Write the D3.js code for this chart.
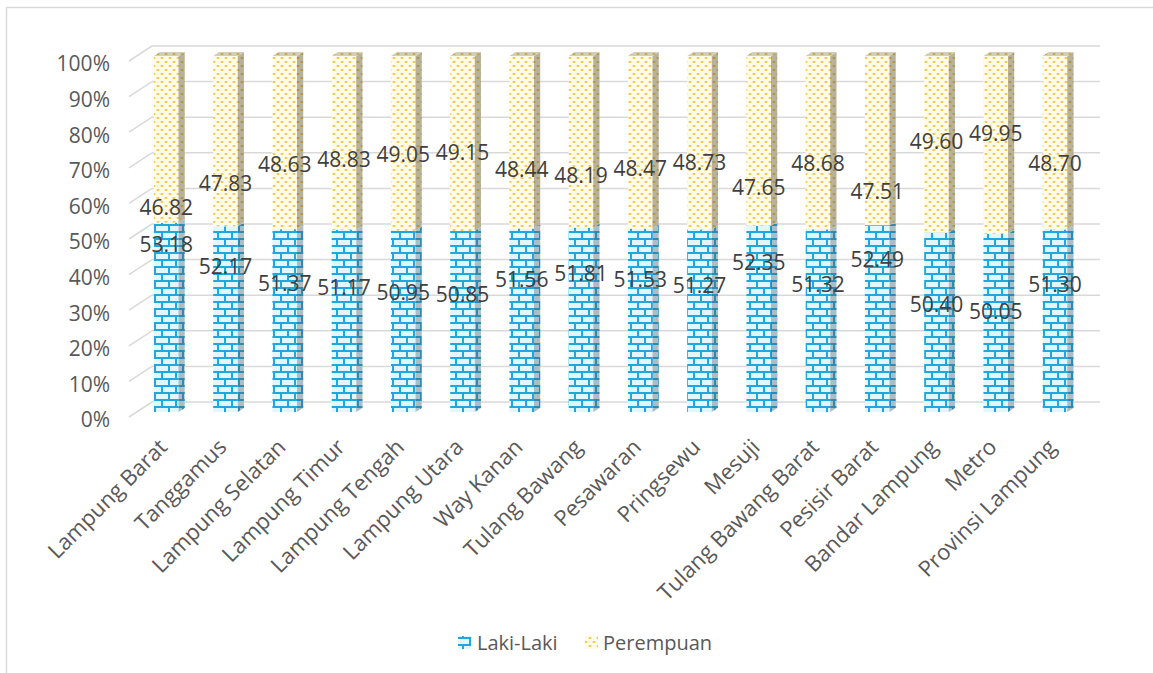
<!DOCTYPE html>
<html>
<head>
<meta charset="utf-8">
<script src="https://cdn.jsdelivr.net/npm/d3@7"></script>
<style>
  html, body { margin: 0; padding: 0; background: #ffffff; }
  svg { display: block; font-family: "Open Sans", "Liberation Sans", sans-serif; }
</style>
</head>
<body>
<script>
// Population share by sex per regency / city (percent)
const categories = [
  "Lampung Barat", "Tanggamus", "Lampung Selatan", "Lampung Timur",
  "Lampung Tengah", "Lampung Utara", "Way Kanan", "Tulang Bawang",
  "Pesawaran", "Pringsewu", "Mesuji", "Tulang Bawang Barat",
  "Pesisir Barat", "Bandar Lampung", "Metro", "Provinsi Lampung"
];
const lakiLaki = [53.18, 52.17, 51.37, 51.17, 50.95, 50.85, 51.56, 51.81,
                  51.53, 51.27, 52.35, 51.32, 52.49, 50.40, 50.05, 51.30];
const perempuan = [46.82, 47.83, 48.63, 48.83, 49.05, 49.15, 48.44, 48.19,
                   48.47, 48.73, 47.65, 48.68, 47.51, 49.60, 49.95, 48.70];
const percentTicks = [0, 10, 20, 30, 40, 50, 60, 70, 80, 90, 100];
const seriesNames = ["Laki-Laki", "Perempuan"];

const W = 1153, H = 673;
const svg = d3.select("body").append("svg").attr("width", W).attr("height", H);

// ---- fill patterns ----
const defs = svg.append("defs");
const brick = defs.append("pattern").attr("id", "brick")
  .attr("patternUnits", "userSpaceOnUse").attr("width", 14).attr("height", 14);
brick.append("rect").attr("width", 14).attr("height", 14).attr("fill", "#e2f6fd");
brick.append("rect").attr("x", 0).attr("y", 0).attr("width", 14).attr("height", 2).attr("fill", "#1fa8df");
brick.append("rect").attr("x", 0).attr("y", 7).attr("width", 14).attr("height", 2).attr("fill", "#1fa8df");
brick.append("rect").attr("x", 0).attr("y", 2).attr("width", 2).attr("height", 5).attr("fill", "#1fa8df");
brick.append("rect").attr("x", 7).attr("y", 9).attr("width", 2).attr("height", 5).attr("fill", "#1fa8df");

const dots = defs.append("pattern").attr("id", "dots")
  .attr("patternUnits", "userSpaceOnUse").attr("width", 8).attr("height", 8);
dots.append("rect").attr("width", 8).attr("height", 8).attr("fill", "#fffbe6");
dots.append("ellipse").attr("cx", 2).attr("cy", 2).attr("rx", 1.6).attr("ry", 1.1).attr("fill", "#f2c542");
dots.append("ellipse").attr("cx", 6).attr("cy", 6).attr("rx", 1.6).attr("ry", 1.1).attr("fill", "#f2c542");

// ---- chart frame ----
svg.append("rect").attr("x", 6.5).attr("y", 7.5).attr("width", 1160).attr("height", 700)
  .attr("fill", "none").attr("stroke", "#d9d9d9").attr("stroke-width", 1.5);

// ---- scales and 3-D projection ----
const yFront = d3.scaleLinear().domain([0, 100]).range([417, 61]);
const x = d3.scaleBand().domain(categories).range([129, 1077])
  .paddingInner(0.585).paddingOuter(0.2925);
const depthX = 23, depthY = -15;           // full depth of the plot box
const barT0 = 0.33, barDepthT = 0.27;      // bar placement inside the depth

// gridlines: diagonal on the side wall, horizontal on the back wall
const grid = svg.append("g").attr("stroke", "#d9d9d9").attr("stroke-width", 1.5).attr("fill", "none");
percentTicks.forEach(v => {
  const yf = yFront(v), yb = yf + depthY;
  grid.append("line").attr("x1", 129).attr("y1", yf).attr("x2", 129 + depthX).attr("y2", yb);
  grid.append("line").attr("x1", 129 + depthX).attr("y1", yb).attr("x2", 1100).attr("y2", yb);
});

// axis labels
svg.append("g").selectAll("text").data(percentTicks).join("text")
  .attr("x", 110).attr("y", d => yFront(d) + 3).attr("dy", "0.35em")
  .attr("text-anchor", "end").attr("font-size", 21).attr("fill", "#595959")
  .text(d => d + "%");

// ---- stacked bars ----
const rows = categories.map((c, i) => ({ cat: c, laki: lakiLaki[i], perempuan: perempuan[i] }));
const stacked = d3.stack().keys(["laki", "perempuan"])(rows);
const fills = { laki: "brick", perempuan: "dots" };
const sideShade = { laki: "rgba(70,85,95,0.35)", perempuan: "rgba(95,88,60,0.45)" };
const topShade = { laki: "rgba(70,85,95,0.2)", perempuan: "rgba(95,88,60,0.28)" };

const bw = x.bandwidth();
const ddx = depthX * barDepthT, ddy = depthY * barDepthT;
const barsG = svg.append("g");

rows.forEach((r, i) => {
  const x0 = x(r.cat) + depthX * barT0;
  const x1 = x0 + bw;
  const off = depthY * barT0;
  stacked.forEach((layer, li) => {
    const [lo, hi] = layer[i];
    const yLo = yFront(lo) + off, yHi = yFront(hi) + off;
    const key = layer.key;
    // front face
    barsG.append("rect").attr("x", x0).attr("y", yHi).attr("width", bw).attr("height", yLo - yHi)
      .attr("fill", `url(#${fills[key]})`);
    // right side face
    const side = [[x1, yHi], [x1 + ddx, yHi + ddy], [x1 + ddx, yLo + ddy], [x1, yLo]];
    barsG.append("polygon").attr("points", side.join(" ")).attr("fill", `url(#${fills[key]})`);
    barsG.append("polygon").attr("points", side.join(" ")).attr("fill", sideShade[key]);
    // top face on the highest segment
    if (li === stacked.length - 1) {
      const top = [[x0, yHi], [x1, yHi], [x1 + ddx, yHi + ddy], [x0 + ddx, yHi + ddy]];
      barsG.append("polygon").attr("points", top.join(" ")).attr("fill", `url(#${fills[key]})`);
      barsG.append("polygon").attr("points", top.join(" ")).attr("fill", topShade[key]);
    }
  });
});

// ---- data labels ----
// label height follows the share so the two values of a column stay apart
const lakiLabelY = d3.scaleLinear().domain([50, 53.5]).range([312.7, 237.9]);
const perLabelY = d3.scaleLinear().domain([46.5, 50]).range([215.2, 132.4]);
const labelsG = svg.append("g").attr("font-size", 21).attr("fill", "#404040").attr("text-anchor", "middle");
rows.forEach(r => {
  const cx = x(r.cat) + depthX * barT0 + bw / 2;
  labelsG.append("text").attr("x", cx).attr("y", lakiLabelY(r.laki)).attr("dy", "0.35em")
    .text(r.laki.toFixed(2));
  labelsG.append("text").attr("x", cx).attr("y", perLabelY(r.perempuan)).attr("dy", "0.35em")
    .text(r.perempuan.toFixed(2));
});

// ---- category labels ----
svg.append("g").selectAll("text").data(categories).join("text")
  .attr("transform", d => `translate(${x(d) + depthX * barT0 + bw / 2 - 3},443) rotate(-45)`)
  .attr("dy", "0.35em").attr("text-anchor", "end")
  .attr("font-size", 22).attr("fill", "#595959")
  .text(d => d);

// ---- legend ----
const legend = svg.append("g").attr("font-size", 20).attr("fill", "#595959");
const legendItems = [
  { name: seriesNames[0], fill: "brick", sx: 458, tx: 477 },
  { name: seriesNames[1], fill: "dots", sx: 585, tx: 603 }
];
legendItems.forEach(it => {
  legend.append("rect").attr("x", it.sx).attr("y", 636).attr("width", 13).attr("height", 13)
    .attr("fill", `url(#${it.fill})`);
  legend.append("text").attr("x", it.tx).attr("y", 650).text(it.name);
});
</script>
</body>
</html>
